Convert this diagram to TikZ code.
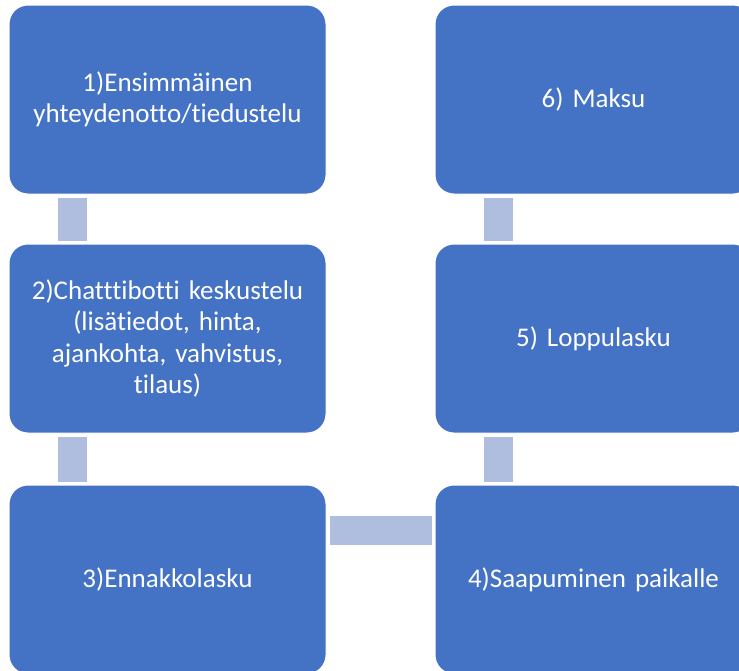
\documentclass[tikz,border=0pt]{standalone}
\usepackage{fontspec}
\setmainfont[Ligatures={NoCommon,NoRare}]{Carlito}
\definecolor{boxblue}{RGB}{68,114,196}
\definecolor{connblue}{RGB}{175,189,222}
\begin{document}
\begin{tikzpicture}[x=1pt,y=-1pt,
  stepbox/.style={draw=white,line width=1pt,fill=boxblue,rounded corners=19pt,
    minimum width=317pt,minimum height=189pt,inner sep=0pt,text=white,
    text width=305pt,align=center,font=\fontsize{27}{31.5}\selectfont},
  conn/.style={draw=connblue,line width=29pt,line cap=butt}]
\useasboundingbox (0,0) rectangle (739,670);
\clip (0,0) rectangle (739,670);
\node[stepbox] (n1) at (167.5,99.5) {1)Ensimmäinen\\yhteydenotto/tiedustelu};
\node[stepbox] (n2) at (167.5,338.5) {2)Chatttibotti keskustelu\\(lisätiedot, hinta,\\ajankohta, vahvistus,\\tilaus)};
\node[stepbox] (n3) at (167.5,579.5) {3)Ennakkolasku};
\node[stepbox] (n4) at (593.5,579.5) {4)Saapuminen paikalle};
\node[stepbox] (n5) at (593.5,338.5) {5) Loppulasku};
\node[stepbox] (n6) at (593.5,99.5) {6) Maksu};
\draw[conn] ([xshift=64pt,yshift=-3pt]n1.south west) -- ([xshift=64pt,yshift=3pt]n2.north west);
\draw[conn] ([xshift=64pt,yshift=-3pt]n2.south west) -- ([xshift=64pt,yshift=3pt]n3.north west);
\draw[conn] ([xshift=3pt,yshift=49.5pt]n3.east) -- ([xshift=-3pt,yshift=49.5pt]n4.west);
\draw[conn] ([xshift=64pt,yshift=3pt]n4.north west) -- ([xshift=64pt,yshift=-3pt]n5.south west);
\draw[conn] ([xshift=64pt,yshift=3pt]n5.north west) -- ([xshift=64pt,yshift=-3pt]n6.south west);
\end{tikzpicture}
\end{document}
